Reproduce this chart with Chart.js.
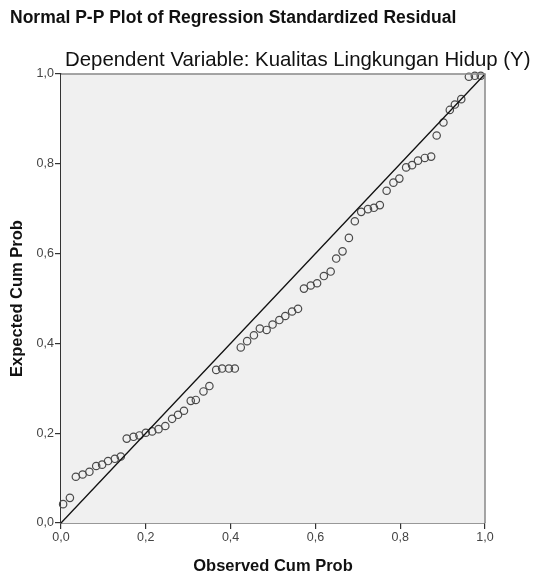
<!DOCTYPE html>
<html>
<head>
<meta charset="utf-8">
<script src="https://cdn.jsdelivr.net/npm/chart.js@4/dist/chart.umd.min.js"></script>
<style>
  html, body { margin: 0; padding: 0; background: #ffffff; }
  #wrap { width: 534px; height: 576px; position: relative; }
</style>
</head>
<body>
<div id="wrap"><canvas id="c" width="534" height="576"></canvas></div>
<script>
// ---- Data ----
const chartTitle = "Normal P-P Plot of Regression Standardized Residual";
const chartSubtitle = "Dependent Variable: Kualitas Lingkungan Hidup (Y)";
const xAxisTitle = "Observed Cum Prob";
const yAxisTitle = "Expected Cum Prob";
const tickValues = [0, 0.2, 0.4, 0.6, 0.8, 1.0];
const tickLabels = ["0,0", "0,2", "0,4", "0,6", "0,8", "1,0"];

const observedCumProb = [
  0.005, 0.021, 0.035, 0.051, 0.067, 0.083, 0.097, 0.111, 0.127, 0.141,
  0.155, 0.171, 0.185, 0.200, 0.215, 0.230, 0.246, 0.262, 0.276, 0.290,
  0.306, 0.318, 0.336, 0.350, 0.366, 0.380, 0.396, 0.410, 0.424, 0.439,
  0.455, 0.469, 0.485, 0.499, 0.515, 0.529, 0.545, 0.559, 0.573, 0.589,
  0.604, 0.620, 0.636, 0.649, 0.664, 0.679, 0.693, 0.708, 0.724, 0.738,
  0.752, 0.768, 0.784, 0.798, 0.814, 0.828, 0.842, 0.858, 0.873, 0.886,
  0.902, 0.917, 0.929, 0.944, 0.962, 0.976, 0.990
];
const expectedCumProb = [
  0.042, 0.056, 0.103, 0.108, 0.114, 0.127, 0.130, 0.138, 0.143, 0.148,
  0.188, 0.192, 0.195, 0.201, 0.204, 0.209, 0.216, 0.232, 0.241, 0.250,
  0.272, 0.274, 0.293, 0.305, 0.341, 0.344, 0.344, 0.344, 0.391, 0.405,
  0.418, 0.433, 0.430, 0.442, 0.452, 0.461, 0.471, 0.477, 0.522, 0.529,
  0.534, 0.550, 0.560, 0.589, 0.605, 0.635, 0.672, 0.693, 0.699, 0.702,
  0.708, 0.740, 0.758, 0.767, 0.792, 0.797, 0.807, 0.813, 0.816, 0.863,
  0.892, 0.920, 0.932, 0.944, 0.994, 0.996, 0.996
];
const referenceLineX = [0, 1];
const referenceLineY = [0, 1];

const FONT = "'Liberation Sans', Arial, sans-serif";

const points = observedCumProb.map((x, i) => ({ x: x, y: expectedCumProb[i] }));
const diag = referenceLineX.map((x, i) => ({ x: x, y: referenceLineY[i] }));

const frame = {
  id: 'frame',
  beforeDatasetsDraw(chart) {
    const { ctx, chartArea: a } = chart;
    ctx.save();
    ctx.fillStyle = '#f0f0f0';
    ctx.fillRect(a.left, a.top, a.right - a.left, a.bottom - a.top);
    ctx.restore();
  },
  afterDraw(chart) {
    const { ctx, chartArea: a } = chart;
    ctx.save();
    // top and right frame lines
    ctx.strokeStyle = '#888888';
    ctx.lineWidth = 1.5;
    ctx.beginPath();
    ctx.moveTo(a.left, a.top);
    ctx.lineTo(a.right, a.top);
    ctx.lineTo(a.right, a.bottom);
    ctx.stroke();
    // titles
    ctx.fillStyle = '#111111';
    ctx.textBaseline = 'middle';
    ctx.textAlign = 'left';
    ctx.font = "bold 17.5px " + FONT;
    ctx.fillText(chartTitle, 10, 18);
    ctx.font = "20.4px " + FONT;
    ctx.fillText(chartSubtitle, 65, 60);
    ctx.restore();
  }
};

new Chart(document.getElementById('c'), {
  type: 'scatter',
  data: {
    datasets: [
      {
        type: 'line',
        data: diag,
        borderColor: '#111111',
        borderWidth: 1.3,
        pointRadius: 0,
        fill: false,
        clip: false
      },
      {
        data: points,
        pointStyle: 'circle',
        pointRadius: 3.7,
        pointHoverRadius: 3.7,
        backgroundColor: 'rgba(0,0,0,0)',
        borderColor: '#4a4a4a',
        borderWidth: 1.2,
        clip: false
      }
    ]
  },
  options: {
    responsive: false,
    animation: false,
    events: [],
    layout: { padding: { top: 74, right: 49, left: 0, bottom: 0 } },
    plugins: {
      legend: { display: false },
      tooltip: { enabled: false },
      title: { display: false }
    },
    scales: {
      x: {
        type: 'linear',
        min: 0, max: 1,
        afterBuildTicks(scale) { scale.ticks = tickValues.map(v => ({ value: v })); },
        afterFit(scale) { scale.height = 53; },
        ticks: {
          color: '#444444',
          font: { family: FONT, size: 12.5 },
          padding: 1,
          maxRotation: 0,
          callback: (v, i) => tickLabels[i]
        },
        grid: { display: true, drawOnChartArea: false, drawTicks: true, tickLength: 6, color: '#333333', lineWidth: 1.2 },
        border: { display: true, color: '#333333', width: 1.5 },
        title: {
          display: true,
          text: xAxisTitle,
          color: '#111111',
          font: { family: FONT, size: 16.5, weight: 'bold' },
          padding: { top: 8, bottom: 0 }
        }
      },
      y: {
        type: 'linear',
        min: 0, max: 1,
        afterBuildTicks(scale) { scale.ticks = tickValues.map(v => ({ value: v })); },
        afterFit(scale) { scale.width = 61; },
        ticks: {
          color: '#444444',
          font: { family: FONT, size: 12.5 },
          padding: 1,
          callback: (v, i) => tickLabels[i]
        },
        grid: { display: true, drawOnChartArea: false, drawTicks: true, tickLength: 6, color: '#333333', lineWidth: 1.2 },
        border: { display: true, color: '#333333', width: 1.5 },
        title: {
          display: true,
          text: yAxisTitle,
          color: '#111111',
          font: { family: FONT, size: 16.5, weight: 'bold' },
          padding: { top: 8, bottom: 0 }
        }
      }
    }
  },
  plugins: [frame]
});
</script>
</body>
</html>
